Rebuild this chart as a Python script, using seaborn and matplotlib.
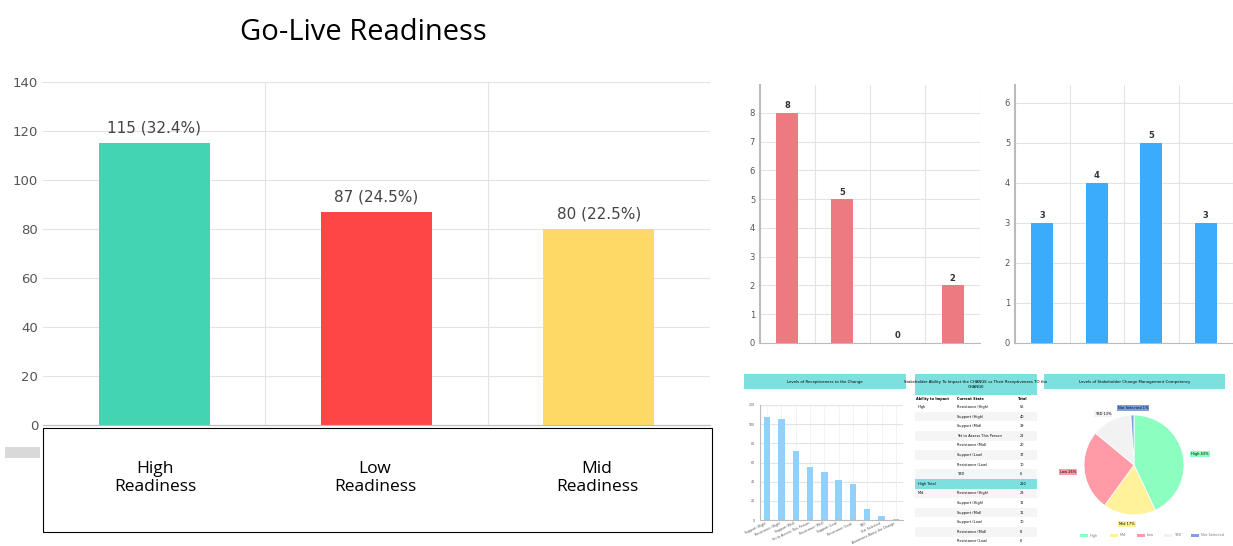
import matplotlib
matplotlib.use("Agg")
import matplotlib.pyplot as plt
import seaborn as sns
import pandas as pd
from matplotlib.patches import Rectangle

W, H = 1233, 546
categories = ["High\nReadiness", "Low\nReadiness", "Mid\nReadiness"]
counts = [115, 87, 80]
pct_labels = ["115 (32.4%)", "87 (24.5%)", "80 (22.5%)"]
main_colors = ["#43D4B4", "#FF4646", "#FFD966"]

red_cats = ["a", "b", "c", "d"]
red_vals = [8, 5, 0, 2]
blue_cats = ["a", "b", "c", "d"]
blue_vals = [3, 4, 5, 3]

recep_cats = ["Support (High)", "Resistance (High)", "Support (Mid)", "Yet to Assess This Person",
              "Resistance (Mid)", "Support (Low)", "Resistance (Low)", "TBD", "Not Selected",
              "Awareness About the Change"]
recep_vals = [108, 105, 72, 55, 50, 42, 38, 12, 4, 1]

table_rows = [("High", "Resistance (High)", "56"), ("", "Support (High)", "40"), ("", "Support (Mid)", "39"),
              ("", "Yet to Assess This Person", "22"), ("", "Resistance (Mid)", "20"), ("", "Support (Low)", "17"),
              ("", "Resistance (Low)", "10"), ("", "TBD", "6"), ("High Total", "", "210"),
              ("Mid", "Resistance (High)", "28"), ("", "Support (High)", "12"), ("", "Support (Mid)", "11"),
              ("", "Support (Low)", "10"), ("", "Resistance (Mid)", "8"), ("", "Resistance (Low)", "6")]

pie_labels = ["High", "Mid", "Low", "TBD", "Not Selected"]
pie_vals = [43, 17, 26, 13, 1]
pie_colors = ["#8CFFC0", "#FFF29A", "#FF9AA6", "#F2F2F2", "#7E9FE0"]

fig = plt.figure(figsize=(W / 100, H / 100), dpi=100)
fig.patch.set_facecolor("white")

def ax_px(x0, y0, x1, y1):
    return fig.add_axes([x0 / W, 1 - y1 / H, (x1 - x0) / W, (y1 - y0) / H])

def style(ax, fs):
    ax.set_facecolor("white")
    for s in ["top", "right"]:
        ax.spines[s].set_visible(False)
    ax.spines["left"].set_color("#BBBBBB")
    ax.spines["bottom"].set_color("#BBBBBB")
    ax.grid(axis="y", color="#E3E3E3", lw=0.8)
    ax.set_axisbelow(True)
    ax.tick_params(labelsize=fs, colors="#555555", length=0)
    ax.set_xlabel("")
    ax.set_ylabel("")

fig.text(363 / W, 1 - 32 / H, "Go-Live Readiness", fontsize=21, ha="center", va="center", family="Open Sans")

df = pd.DataFrame({"cat": categories, "val": counts})
ax = ax_px(43, 82, 710, 425)
sns.barplot(data=df, x="cat", y="val", hue="cat", palette=main_colors, width=0.5, legend=False, ax=ax, saturation=1)
ax.set_ylim(0, 140)
ax.set_yticks(range(0, 141, 20))
ax.set_xlim(-0.5, 2.5)
style(ax, 9.5)
ax.set_xticks([])
for b in [0.5, 1.5, 2.5]:
    ax.axvline(b, color="#E3E3E3", lw=0.8, zorder=0)
ax.spines["left"].set_visible(False)
for i, (v, t) in enumerate(zip(counts, pct_labels)):
    ax.text(i, v + 3, t, ha="center", va="bottom", fontsize=11, color="#444444")

fig.patches.append(Rectangle((43 / W, 1 - 532 / H), (712 - 43) / W, (532 - 428) / H,
                             transform=fig.transFigure, fill=False, ec="black", lw=0.8))
fig.patches.append(Rectangle((5 / W, 1 - 458 / H), 35 / W, 11 / H, transform=fig.transFigure,
                             color="#D9D9D9", lw=0))
for x, c in zip([155, 375, 597], categories):
    fig.text(x / W, 1 - 478 / H, c, ha="center", va="center", fontsize=12.5, family="Open Sans")

def small_bar(x0, y0, x1, y1, cats, vals, color, ymax, top):
    a = ax_px(x0, y0, x1, y1)
    d = pd.DataFrame({"c": cats, "v": vals})
    sns.barplot(data=d, x="c", y="v", color=color, width=0.4, ax=a, saturation=1)
    a.set_ylim(0, top)
    a.set_yticks(range(0, ymax + 1))
    a.set_xlim(-0.5, len(cats) - 0.5)
    style(a, 6)
    a.set_xticks([])
    a.spines["left"].set_linewidth(1.5)
    for b in [0.5, 1.5, 2.5, 3.5]:
        a.axvline(b, color="#E3E3E3", lw=0.8, zorder=0)
    for i, v in enumerate(vals):
        a.text(i, v + top * 0.01, str(v), ha="center", va="bottom", fontsize=6, fontweight="bold", color="#333333")

small_bar(760, 85, 980, 343, red_cats, red_vals, "#EC7A80", 8, 8.97)
small_bar(1015, 85, 1233, 343, blue_cats, blue_vals, "#3BABFB", 6, 6.45)

def header(x0, x1, y0, y1, text):
    fig.patches.append(Rectangle((x0 / W, 1 - y1 / H), (x1 - x0) / W, (y1 - y0) / H,
                                 transform=fig.transFigure, color="#7EDFDF", lw=0))
    fig.text((x0 + x1) / 2 / W, 1 - (y0 + y1) / 2 / H, text, fontsize=2.8, ha="center", va="center")

header(744, 906, 374, 389, "Levels of Receptiveness to the Change")
a = ax_px(760, 405, 903, 520)
d = pd.DataFrame({"c": recep_cats, "v": recep_vals})
sns.barplot(data=d, x="c", y="v", color="#90D2FD", width=0.45, ax=a, saturation=1)
a.set_ylim(0, 120)
a.set_yticks(range(0, 121, 20))
style(a, 2.3)
a.grid(axis="x", color="#EEEEEE", lw=0.5)
a.tick_params(axis="x", labelrotation=25, pad=1)
for lbl in a.get_xticklabels():
    lbl.set_ha("right")

header(915, 1037, 374, 395, "Stakeholder Ability To Impact the CHANGE vs Their Receptiveness TO the\nCHANGE")
fig.text(916 / W, 1 - 399 / H, "Ability to Impact", fontsize=2.5, fontweight="bold", va="center")
fig.text(957 / W, 1 - 399 / H, "Current State", fontsize=2.5, fontweight="bold", va="center")
fig.text(1018 / W, 1 - 399 / H, "Total", fontsize=2.5, fontweight="bold", va="center")
for k, (c1, c2, c3) in enumerate(table_rows):
    y = 407 + k * 9.6
    if c1 == "High Total":
        fig.patches.append(Rectangle((915 / W, 1 - (y + 4.8) / H), 122 / W, 9.6 / H,
                                     transform=fig.transFigure, color="#7EDFDF", lw=0))
    elif k % 2 == 1:
        fig.patches.append(Rectangle((915 / W, 1 - (y + 4.8) / H), 122 / W, 9.6 / H,
                                     transform=fig.transFigure, color="#F5F5F5", lw=0))
    fig.text(918 / W, 1 - y / H, c1, fontsize=2.5, va="center")
    fig.text(957 / W, 1 - y / H, c2, fontsize=2.5, va="center")
    fig.text(1020 / W, 1 - y / H, c3, fontsize=2.5, va="center")

header(1044, 1225, 374, 389, "Levels of Stakeholder Change Management Competency")
pa = ax_px(1072, 403, 1196, 527)
pa.pie(pie_vals, colors=pie_colors, startangle=90, counterclock=False, radius=1.0,
       wedgeprops=dict(edgecolor="white", linewidth=0.6))
pa.set_xlim(-1.24, 1.24)
pa.set_ylim(-1.24, 1.24)
pa.set_aspect("equal")
for (x, y, t, c) in [(1200, 454, "High 43%", "#8CFFC0"), (1127, 524, "Mid 17%", "#FFF29A"),
                     (1068, 472, "Low 26%", "#FF9AA6"), (1103, 414, "TBD 13%", "#F2F2F2"),
                     (1133, 408, "Not Selected 1%", "#7E9FE0")]:
    fig.text(x / W, 1 - y / H, t, fontsize=2.6, ha="center", va="center",
             bbox=dict(boxstyle="square,pad=0.3", fc=c, ec="none"))
lx = 1080
for lab, c in zip(pie_labels, pie_colors):
    fig.patches.append(Rectangle((lx / W, 1 - 537 / H), 8 / W, 3 / H, transform=fig.transFigure, color=c, lw=0))
    fig.text((lx + 10) / W, 1 - 535.5 / H, lab, fontsize=2.5, va="center", color="#777777")
    lx += 10 + 5 * len(lab) * 0.6 + 8

fig.savefig("out.png", dpi=100)
